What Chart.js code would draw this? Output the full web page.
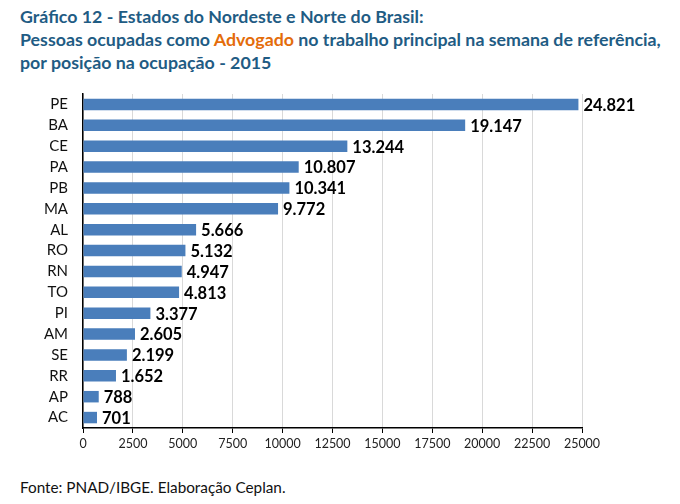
<!DOCTYPE html>
<html>
<head>
<meta charset="utf-8">
<script src="https://cdn.jsdelivr.net/npm/chart.js@4"></script>
<style>
  body { margin: 0; background: #fff; }
  #wrap { position: relative; width: 680px; height: 504px; font-family: Lato, "Open Sans", sans-serif; }
  #title { position: absolute; left: 20px; top: 5px; color: #1f5c84; font-weight: bold; font-size: 17.8px; line-height: 23px; white-space: nowrap; }
  #title .hl { color: #e46c0a; }
  #footer { position: absolute; left: 20px; top: 478px; font-size: 15.3px; color: #111; }
  #box { position: absolute; left: 0; top: 85px; width: 680px; height: 380px; }
</style>
</head>
<body>
<div id="wrap">
  <div id="title">Gráfico 12 - Estados do Nordeste e Norte do Brasil:<br>
    Pessoas ocupadas como <span class="hl">Advogado</span> no trabalho principal na semana de referência,<br>
    por posição na ocupação - 2015</div>
  <div id="box"><canvas id="thisChartRightHere"></canvas></div>
  <div id="footer">Fonte: PNAD/IBGE. Elaboração Ceplan.</div>
</div>
<script>
const states = ["PE", "BA", "CE", "PA", "PB", "MA", "AL", "RO", "RN", "TO", "PI", "AM", "SE", "RR", "AP", "AC"];
const lawyers = [24821, 19147, 13244, 10807, 10341, 9772, 5666, 5132, 4947, 4813, 3377, 2605, 2199, 1652, 788, 701];
const xTicks = [0, 2500, 5000, 7500, 10000, 12500, 15000, 17500, 20000, 22500, 25000];

function fmt(v) {
    return String(v).replace(/\B(?=(\d{3})+(?!\d))/g, ".");
}

// numbers at the end of each bar
const barLabels = {
    id: "barLabels",
    afterDatasetsDraw(chart) {
        const ctx = chart.ctx;
        const meta = chart.getDatasetMeta(0);
        ctx.save();
        ctx.font = "bold 16.5px Lato, 'Open Sans', sans-serif";
        ctx.fillStyle = "#000";
        ctx.textBaseline = "middle";
        ctx.textAlign = "left";
        meta.data.forEach(function (bar, i) {
            ctx.fillText(fmt(lawyers[i]), bar.x + 5, bar.y + 1);
        });
        ctx.restore();
    }
};

const ctx = document.getElementById("thisChartRightHere").getContext("2d");
const myChart = new Chart(ctx, {
    type: "bar",
    data: {
        labels: states,
        datasets: [{
            data: lawyers,
            backgroundColor: "#4a7ebb",
            barPercentage: 0.55,
            categoryPercentage: 1
        }]
    },
    options: {
        indexAxis: "y",
        responsive: true,
        maintainAspectRatio: false,
        animation: false,
        layout: { padding: { top: 8, right: 98, left: 0, bottom: 0 } },
        plugins: { legend: { display: false }, tooltip: { enabled: false } },
        scales: {
            x: {
                min: 0,
                max: 25000,
                afterBuildTicks(scale) {
                    scale.ticks = xTicks.map(v => ({ value: v }));
                },
                afterFit(scale) { scale.height = 37; },
                grid: { color: "#d9d9d9", tickColor: "#000", tickLength: 5 },
                border: { color: "#000", width: 1.5 },
                ticks: {
                    color: "#222",
                    font: { family: "Lato", size: 12.5 },
                    padding: 3,
                    maxRotation: 0,
                    callback: v => String(v)
                }
            },
            y: {
                afterFit(scale) { scale.width = 83; },
                grid: { drawOnChartArea: false, tickLength: 15, tickColor: "rgba(0,0,0,0)" },
                border: { color: "#000", width: 1.5 },
                ticks: { color: "#111", font: { family: "Lato", size: 15 }, padding: 0, autoSkip: false }
            }
        }
    },
    plugins: [barLabels]
});
</script>
</body>
</html>
